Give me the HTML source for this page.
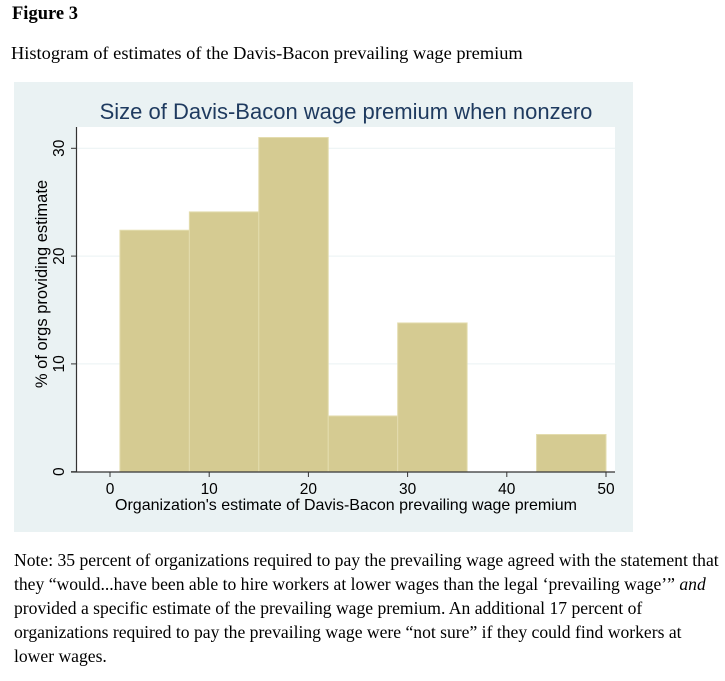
<!DOCTYPE html>
<html><head><meta charset="utf-8"><style>
body{margin:0;width:725px;height:681px;background:#fff;position:relative;font-family:"Liberation Serif",serif;color:#000;overflow:hidden}
.t{position:absolute;white-space:nowrap}
</style></head><body>
<div class="t" style="left:12px;top:4px;font-size:18.5px;font-weight:bold">Figure 3</div>
<div class="t" style="left:11px;top:43px;font-size:18.4px">Histogram of estimates of the Davis-Bacon prevailing wage premium</div>
<svg style="position:absolute;left:0;top:0" width="725" height="540" font-family="Liberation Sans, Arial, sans-serif">
<rect x="14" y="82" width="619" height="450" fill="#eaf2f3"/>
<rect x="76" y="127" width="539" height="345" fill="#fff"/>
<text x="346" y="119" text-anchor="middle" font-size="22" fill="#1e3a5f">Size of Davis-Bacon wage premium when nonzero</text>
<g id="grid"></g><g id="bars"></g><g id="axes"></g>
<text transform="translate(47,284) rotate(-90)" text-anchor="middle" font-size="16.5" fill="#000">% of orgs providing estimate</text>
<text x="346" y="510" text-anchor="middle" font-size="16" fill="#000">Organization's estimate of Davis-Bacon prevailing wage premium</text>
</svg>
<div class="t" style="left:14px;top:548px;font-size:17.6px;line-height:24px;white-space:normal;width:710px">Note: 35 percent of organizations required to pay the prevailing wage agreed with the statement that they “would...have been able to hire workers at lower wages than the legal ‘prevailing wage’” <i>and</i> provided a specific estimate of the prevailing wage premium. An additional 17 percent of organizations required to pay the prevailing wage were “not sure” if they could find workers at lower wages.</div>
<script>
const binEdges=[1,8,15,22,29,36,43,50];
const binValues=[22.4,24.1,31.0,5.17,13.8,0,3.45];
const xTicks=[0,10,20,30,40,50];
const yTicks=[0,10,20,30];
const NS='http://www.w3.org/2000/svg';
const xs=v=>110+v*9.92, ys=v=>471.7-v*10.78;
function mk(t,a,p){const e=document.createElementNS(NS,t);for(const k in a)e.setAttribute(k,a[k]);p.appendChild(e);return e;}
const grid=document.getElementById('grid'),bars=document.getElementById('bars'),axes=document.getElementById('axes');
yTicks.forEach(v=>{if(v>0){const g=mk('line',{x1:77,x2:615,y1:ys(v),y2:ys(v),stroke:'#eaf2f3','stroke-width':1},grid);

}});
binValues.forEach((v,i)=>{if(v<=0)return;const r=mk('rect',{x:xs(binEdges[i]),y:ys(v),width:xs(binEdges[i+1])-xs(binEdges[i]),height:ys(0)-ys(v),fill:'#d5cb92',stroke:'#e3dcae','stroke-width':1},bars);

});
let l=mk('line',{x1:76.5,x2:76.5,y1:127,y2:472,stroke:'#333','stroke-width':1.2},axes);


l=mk('line',{x1:71,x2:615,y1:472,y2:472,stroke:'#333','stroke-width':1.2},axes);


yTicks.forEach(v=>{mk('line',{x1:71,x2:76,y1:ys(v),y2:ys(v),stroke:'#333'},axes);
const t=mk('text',{transform:`translate(64,${ys(v)}) rotate(-90)`,'text-anchor':'middle','font-size':15.5},axes);t.textContent=v;

});
xTicks.forEach(v=>{mk('line',{x1:xs(v),x2:xs(v),y1:472,y2:477,stroke:'#333'},axes);
const t=mk('text',{x:xs(v),y:494,'text-anchor':'middle','font-size':15.5},axes);t.textContent=v;

});
</script>
</body></html>
